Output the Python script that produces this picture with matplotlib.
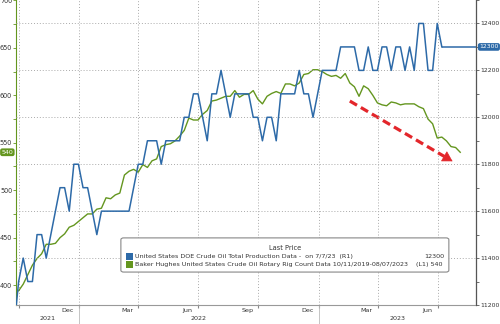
import matplotlib
matplotlib.use('Agg')
import matplotlib.pyplot as plt
import matplotlib.dates as mdates
import matplotlib.transforms as mtransforms
from matplotlib.lines import Line2D
from matplotlib.patches import FancyBboxPatch, Rectangle
import numpy as np
import pandas as pd

# weekly Baker Hughes oil rig count (plotted 4 weeks forward), left axis
rig_start = '2021-10-01'
rig_count = [394, 401, 411, 421, 428, 433, 443, 443, 444, 450, 454, 461, 463, 467,
             471, 475, 475, 480, 481, 492, 491, 495, 497, 516, 520, 522, 519, 527,
             524, 531, 533, 546, 548, 549, 552, 557, 563, 576, 574, 574, 580, 584,
             594, 595, 597, 599, 599, 605, 598, 601, 601, 605, 596, 591, 599, 602,
             604, 602, 612, 612, 610, 613, 622, 623, 627, 627,
             625, 622, 620, 621, 618, 623, 613, 609, 599, 610, 607, 600, 592, 590,
             589, 593, 592, 590, 591, 591, 591, 588, 586, 575, 570, 555, 556, 552,
             546, 545, 540]

# weekly DOE crude production (kb/d), right axis
prod_start = '2021-09-24'
production = [11100, 11300, 11400, 11300, 11300, 11500, 11500, 11400, 11500, 11600,
              11700, 11700, 11600, 11800, 11800,
              11700, 11700, 11600, 11500, 11600, 11600, 11600, 11600, 11600, 11600,
              11600, 11700, 11800, 11800, 11900, 11900, 11900, 11800, 11900, 11900,
              11900, 11900, 12000, 12000, 12100, 12100, 12000, 11900, 12100, 12100,
              12200, 12100, 12000, 12100, 12100, 12100, 12100, 12000, 12000, 11900,
              12000, 12000, 11900, 12100, 12100, 12100, 12100, 12200, 12100, 12100,
              12000, 12100,
              12200, 12200, 12200, 12200, 12300, 12300, 12300, 12300, 12200, 12200,
              12300, 12200, 12200, 12300, 12300, 12200, 12300, 12300, 12200, 12300,
              12200, 12400, 12400, 12200, 12200, 12400, 12300]

rig_label = 'Baker Hughes United States Crude Oil Rotary Rig Count Data 10/11/2019-08/07/2023    (L1) 540'
prod_label = 'United States DOE Crude Oil Total Production Data -  on 7/7/23  (R1)'
prod_last_txt = '12300'

x_lo = pd.Timestamp('2021-09-27')
x_hi = pd.Timestamp('2023-08-28')
arrow_from = (pd.Timestamp('2023-02-17'), 594)
arrow_to = (pd.Timestamp('2023-07-27'), 529)

blue = '#2d6aa8'
green = '#64961f'
red = '#e3262b'
txt = '#333333'

rig_dates = pd.date_range(rig_start, periods=len(rig_count), freq='W-FRI')
prod_dates = pd.date_range(prod_start, periods=len(production), freq='W-FRI')

fig = plt.figure(figsize=(5, 3.24), dpi=100)
ax = fig.add_axes([16 / 500, 19 / 324, 460 / 500, 305 / 324])
ax2 = ax.twinx()

ax.plot(rig_dates, rig_count, color=green, lw=1.0, zorder=3)
ax2.plot(prod_dates, production, color=blue, lw=1.1, zorder=3)
ax2.hlines(production[-1], prod_dates[-1], x_hi, color=blue, lw=1.1)

ax.set_xlim(x_lo, x_hi)
ax.set_ylim(379, 700.5)
ax2.set_ylim(11200, 12500)

# ticks
ax.yaxis.set_major_locator(plt.MultipleLocator(50))
ax.yaxis.set_minor_locator(plt.MultipleLocator(25))
ax2.yaxis.set_major_locator(plt.MultipleLocator(200))
ax2.yaxis.set_minor_locator(plt.MultipleLocator(100))
ax.tick_params(axis='y', which='both', direction='out', length=2, width=0.6,
               labelsize=4.7, labelcolor=txt, color=green, pad=0.8)
ax2.tick_params(axis='y', which='both', direction='out', length=2, width=0.6,
                labelsize=4.4, labelcolor=txt, color='#555555', pad=0.8)

ax.xaxis.set_major_locator(mdates.MonthLocator(bymonth=[1, 4, 7, 10]))
ax.xaxis.set_major_formatter(plt.NullFormatter())
ax.xaxis.set_minor_locator(mdates.MonthLocator(bymonth=[3, 6, 9, 12], bymonthday=15))
ax.xaxis.set_minor_formatter(mdates.DateFormatter('%b'))
ax.tick_params(axis='x', which='major', length=2, color='#888888')
ax.tick_params(axis='x', which='minor', length=0, labelsize=4.6, labelcolor=txt, pad=2.5)

# grid
ax.grid(axis='x', which='major', color='#aaaaaa', lw=0.7, ls=(0, (1, 2)))
ax2.grid(axis='y', which='major', color='#aaaaaa', lw=0.7, ls=(0, (1, 2)))
ax.set_axisbelow(True)
ax2.set_axisbelow(True)

for a in (ax, ax2):
    a.spines['top'].set_visible(False)
ax.spines['left'].set_color(green)
ax.spines['left'].set_linewidth(0.8)
ax2.spines['left'].set_visible(False)
ax2.spines['right'].set_color('#555555')
ax2.spines['right'].set_linewidth(0.8)
ax.spines['bottom'].set_color('#999999')
ax.spines['bottom'].set_linestyle((0, (2, 1)))
ax2.spines['bottom'].set_visible(False)

# year labels and separators below the axis
trans = mtransforms.blended_transform_factory(ax.transData, ax.transAxes)
for yr in range(x_lo.year, x_hi.year + 1):
    a0 = max(pd.Timestamp(f'{yr}-01-01'), x_lo)
    a1 = min(pd.Timestamp(f'{yr + 1}-01-01'), x_hi)
    mid = a0 + (a1 - a0) / 2
    ax.text(mid, -0.043, str(yr), transform=trans, ha='center', va='center',
            fontsize=4.6, color=txt, clip_on=False)
    if yr > x_lo.year:
        ax.add_line(Line2D([pd.Timestamp(f'{yr}-01-01')] * 2, [0, -0.07], transform=trans,
                           color='#bbbbbb', lw=0.6, clip_on=False))

# red trend arrow
x0, y0 = mdates.date2num(arrow_from[0]), arrow_from[1]
x1, y1 = mdates.date2num(arrow_to[0]), arrow_to[1]
xm, ym = x0 + (x1 - x0) * 0.9, y0 + (y1 - y0) * 0.9
ax.plot([x0, xm], [y0, ym], color=red, lw=2.3, ls=(0, (2.6, 1.4)), solid_capstyle='butt', zorder=4)
ax.annotate('', xy=(x1, y1), xytext=(xm, ym),
            arrowprops=dict(arrowstyle='-|>,head_length=0.65,head_width=0.38', color=red, lw=0.5),
            zorder=4)

# last value tags
tr_l = mtransforms.blended_transform_factory(ax.transAxes, ax.transData)
ax.text(-0.006, rig_count[-1], str(rig_count[-1]), transform=tr_l, ha='right', va='center',
        fontsize=4.5, color='white', clip_on=False, zorder=6,
        bbox=dict(boxstyle='round,pad=0.22,rounding_size=0.35', fc=green, ec='none'))
tr_r = mtransforms.blended_transform_factory(ax2.transAxes, ax2.transData)
ax2.text(1.007, production[-1], str(production[-1]), transform=tr_r, ha='left', va='center',
         fontsize=4.4, color='white', clip_on=False, zorder=6,
         bbox=dict(boxstyle='round,pad=0.22,rounding_size=0.35', fc=blue, ec='none'))

# legend box
box = FancyBboxPatch((0.228, 0.108), 0.713, 0.112, boxstyle='round,pad=0,rounding_size=0.006',
                     transform=ax2.transAxes, fc='white', ec='#888888', lw=0.8, zorder=7)
ax2.add_patch(box)
ax2.text(0.585, 0.186, 'Last Price', transform=ax2.transAxes, ha='center', va='center',
         fontsize=4.8, color=txt, zorder=8)
for yy, col, lab in [(0.158, blue, prod_label), (0.132, green, rig_label)]:
    ax2.add_patch(Rectangle((0.240, yy - 0.011), 0.014, 0.022, transform=ax2.transAxes,
                            fc=col, ec='none', zorder=8))
    ax2.text(0.259, yy, lab, transform=ax2.transAxes, ha='left', va='center',
             fontsize=4.6, color=txt, zorder=8)
ax2.text(0.932, 0.158, prod_last_txt, transform=ax2.transAxes, ha='right', va='center',
         fontsize=4.6, color=txt, zorder=8)

fig.savefig('out.png', dpi=100)
